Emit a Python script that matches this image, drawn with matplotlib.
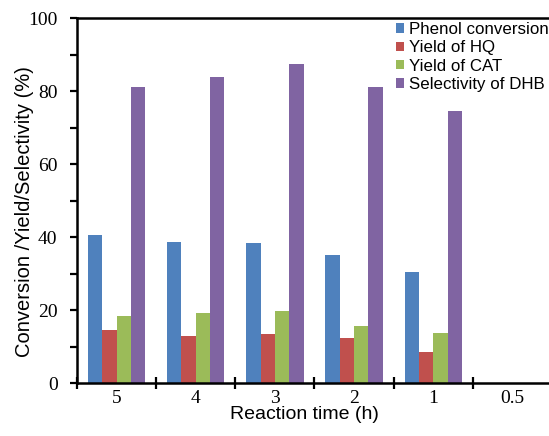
import matplotlib
matplotlib.use("Agg")
import matplotlib.pyplot as plt
import numpy as np

categories = ["5", "4", "3", "2", "1", "0.5"]
phenol_conversion = [40.5, 38.7, 38.3, 35.0, 30.5, 0]
yield_hq = [14.5, 12.8, 13.4, 12.4, 8.6, 0]
yield_cat = [18.3, 19.3, 19.7, 15.7, 13.8, 0]
selectivity_dhb = [81.2, 83.8, 87.5, 81.2, 74.6, 0]

series = [
    ("Phenol conversion", phenol_conversion, "#4F81BD"),
    ("Yield of HQ", yield_hq, "#C0504D"),
    ("Yield of CAT", yield_cat, "#9BBB59"),
    ("Selectivity of DHB", selectivity_dhb, "#8064A2"),
]

W, H = 549, 436
fig = plt.figure(figsize=(W / 100, H / 100), dpi=100)
left, right, bottom, top = 77, 552, 436 - 383, 436 - 18.3
ax = fig.add_axes([left / W, bottom / H, (right - left) / W, (top - bottom) / H])

x = np.arange(len(categories))
w = 0.181
for k, (name, vals, col) in enumerate(series):
    ax.bar(x + (k - 1.5) * w, vals, w, color=col, label=name, linewidth=0)

ax.set_xlim(-0.5, len(categories) - 0.5)
ax.set_ylim(0, 100)

# x ticks at category boundaries, labels at centers
ax.set_xticks(np.arange(-0.5, len(categories) - 0.5, 1.0))
ax.set_xticklabels([])
ax.set_xticks(x, minor=True)
ax.set_xticklabels(categories, minor=True, family="Liberation Serif", fontsize=14)
ax.tick_params(axis="x", which="major", direction="inout", length=8, width=1.6)
ax.tick_params(axis="x", which="minor", length=0, pad=5)

ax.set_yticks(np.arange(0, 101, 20))
ax.set_yticks(np.arange(0, 101, 10), minor=True)
ax.set_yticklabels([str(v) for v in range(0, 101, 20)], family="Liberation Serif", fontsize=14)
ax.tick_params(axis="y", which="both", direction="out", length=5, width=1.6, pad=9)

for s in ["left", "bottom", "top"]:
    ax.spines[s].set_linewidth(1.8)
ax.spines["right"].set_visible(False)

fig.text(25 / W, 1 - 212 / H, "Conversion /Yield/Selectivity (%)", rotation=90,
         ha="center", va="center", family="Liberation Sans", fontsize=14.5)
fig.text(304 / W, 1 - 414 / H, "Reaction time (h)", ha="center", va="center",
         family="Liberation Sans", fontsize=14)

leg = ax.legend(loc="upper left",
                bbox_to_anchor=((396 - left) / (right - left), (383 - 22) / (383 - 18.3)),
                frameon=False, prop={"family": "Liberation Sans", "size": 12.2},
                handlelength=0.48, handleheight=0.48, handletextpad=0.3, labelspacing=0.2,
                borderaxespad=0, borderpad=0)

fig.savefig("out.png", dpi=100)
